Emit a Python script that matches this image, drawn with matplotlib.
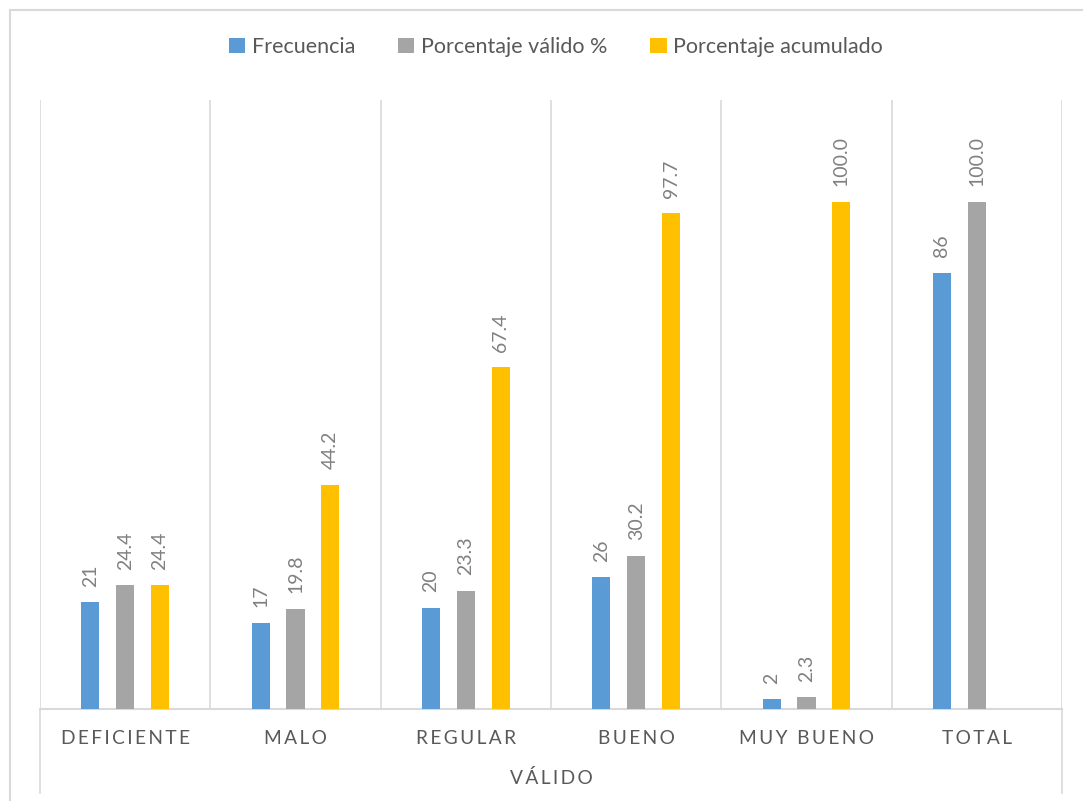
import numpy as np
import matplotlib.pyplot as plt
from matplotlib.patches import Rectangle

categories = ['DEFICIENTE', 'MALO', 'REGULAR', 'BUENO', 'MUY BUENO', 'TOTAL']
group_label = 'VÁLIDO'
frecuencia = [21, 17, 20, 26, 2, 86]
porc_valido = [24.4, 19.8, 23.3, 30.2, 2.3, 100.0]
porc_acum = [24.4, 44.2, 67.4, 97.7, 100.0, None]

series = [
    ('Frecuencia', frecuencia, '#5B9BD5', '{:.0f}'),
    ('Porcentaje válido %', porc_valido, '#A5A5A5', '{:.1f}'),
    ('Porcentaje acumulado', porc_acum, '#FFC000', '{:.1f}'),
]

plt.rcParams['font.family'] = ['Lato', 'DejaVu Sans']

W, H = 1083, 801
fig = plt.figure(figsize=(W / 100, H / 100), dpi=100)
ax = fig.add_axes([40 / W, 1 - 709 / H, (1062 - 40) / W, (709 - 100) / H])

# chart border
fig.add_artist(Rectangle((10 / W, -0.05), 1.2, 1 - 10 / H + 0.05,
                         transform=fig.transFigure, fill=False,
                         edgecolor='#D9D9D9', linewidth=1.5))

x = np.arange(len(categories))
offsets = [-0.205, 0.0, 0.205]
width = 0.106

for (name, vals, color, fmt), off in zip(series, offsets):
    xs = [xi + off for xi, v in zip(x, vals) if v is not None]
    vs = [v for v in vals if v is not None]
    ax.bar(xs, vs, width, color=color, label=name, zorder=3)
    for xi, v in zip(xs, vs):
        ax.annotate(fmt.format(v), (xi, v), xytext=(0, 11), textcoords='offset points',
                    rotation=90, ha='center', va='bottom', fontsize=14, color='#808080')

ax.set_xlim(-0.5, len(categories) - 0.5)
ax.set_ylim(0, 120)
ax.set_yticks([])
ax.set_xticks([])
for s in ['top', 'left', 'right']:
    ax.spines[s].set_visible(False)
ax.spines['bottom'].set_color('#D9D9D9')
ax.spines['bottom'].set_linewidth(1.5)

# vertical separators between categories
for b in np.arange(-0.5, len(categories), 1.0):
    ax.axvline(b, color='#D9D9D9', linewidth=1.2, zorder=1)

# multi-level axis outer separators
xt = ax.get_xaxis_transform()
for b in [-0.5, len(categories) - 0.5]:
    ax.plot([b, b], [0, -0.138], transform=xt, color='#D9D9D9', linewidth=1.2, clip_on=False)

for xi, c in zip(x, categories):
    ax.text(xi, -0.048, '\u2009'.join(c), transform=xt, ha='center', va='center',
            fontsize=13.8, color='#595959')
ax.text((len(categories) - 1) / 2, -0.113, '\u2009'.join(group_label), transform=xt,
        ha='center', va='center', fontsize=13.8, color='#595959')

fig.legend(loc='center', bbox_to_anchor=(556 / W, 1 - 47 / H), ncol=3, frameon=False,
           fontsize=15.5, labelcolor='#595959', handlelength=0.75, handleheight=0.75,
           handletextpad=0.3, columnspacing=2.0)

fig.savefig('out.png', dpi=100)
